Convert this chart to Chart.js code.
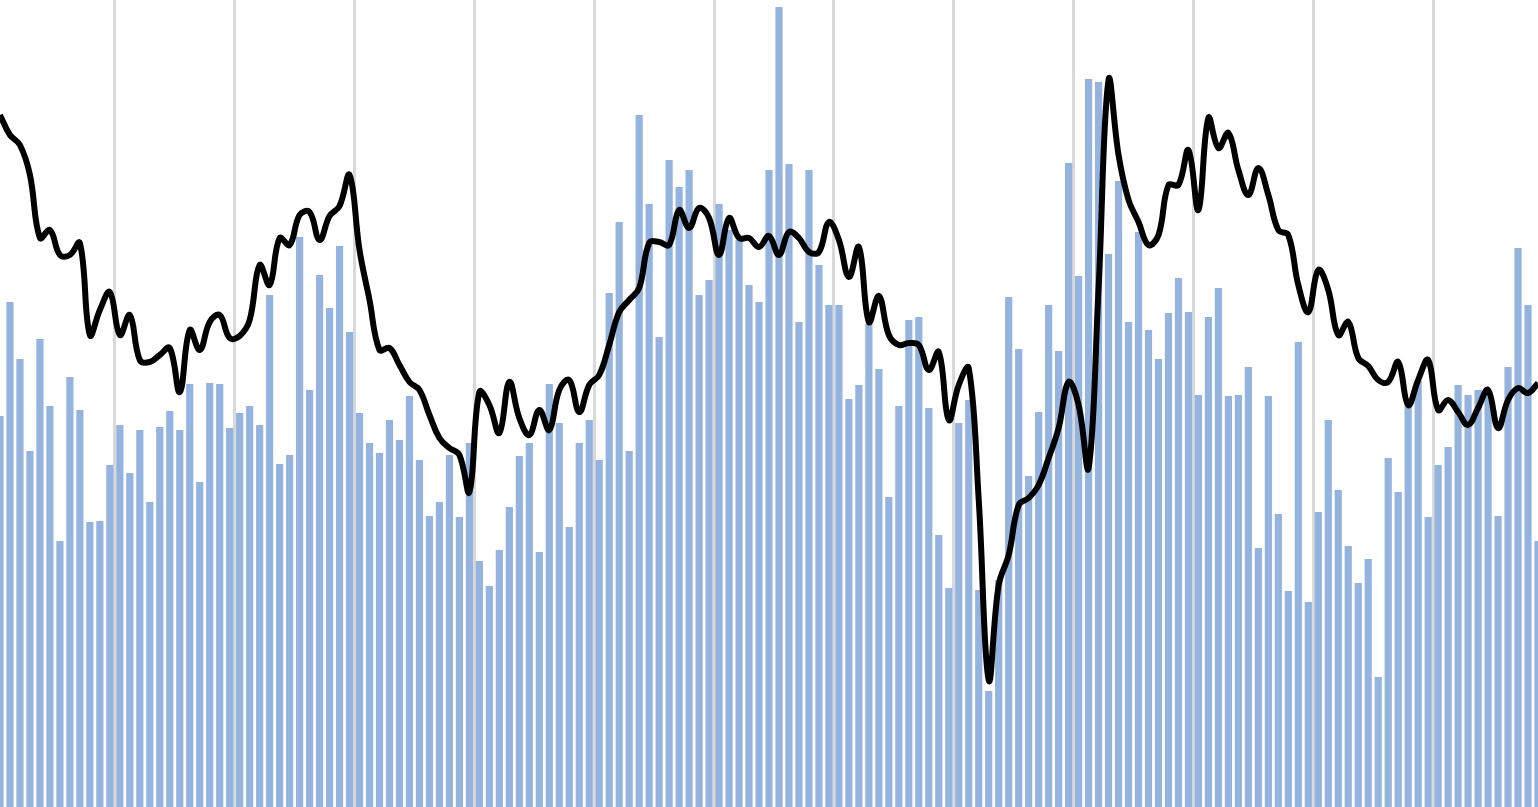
<!DOCTYPE html>
<html>
<head>
<meta charset="utf-8">
<script src="https://cdn.jsdelivr.net/npm/chart.js@4"></script>
<style>
    html, body { margin: 0; padding: 0; background: #fff; overflow: hidden; }
    #wrap { position: absolute; left: -5px; top: 0; width: 1548px; height: 807px; }
</style>
</head>
<body>
<div id="wrap"><canvas id="mainChart" width="1548" height="807"></canvas></div>
<script>
// monthly values
const barValues = [
    391, 505, 448, 356, 468, 401, 266, 430, 397, 285, 286, 342,
    382, 334, 377, 305, 380, 396, 377, 423, 325, 424, 423, 379,
    394, 401, 382, 512, 343, 352, 570, 417, 532, 499, 561, 475,
    394, 364, 354, 387, 367, 411, 347, 291, 305, 352, 290, 364,
    246, 221, 257, 300, 351, 364, 255, 423, 384, 280, 364, 387,
    347, 514, 585, 356, 692, 603, 470, 647, 620, 637, 512, 527,
    603, 577, 567, 522, 505, 637, 800, 643, 485, 637, 542, 502,
    502, 408, 422, 483, 438, 310, 401, 487, 490, 399, 272, 219,
    384, 407, 217, 116, 227, 510, 458, 331, 395, 502, 456, 644,
    531, 728, 725, 553, 626, 485, 575, 477, 448, 494, 529, 495,
    412, 490, 519, 411, 412, 440, 259, 411, 293, 216, 465, 205,
    295, 387, 317, 261, 224, 248, 130, 349, 315, 406, 426, 290,
    342, 360, 422, 412, 417, 412, 291, 440, 559, 502, 266
];

const lineValues = [
    692, 672, 662, 632, 569, 577, 552, 552, 564, 472, 497, 515,
    472, 492, 447, 445, 452, 459, 415, 477, 457, 485, 492, 469,
    471, 487, 542, 522, 569, 562, 592, 595, 567, 591, 601, 632,
    557, 507, 457, 459, 442, 425, 417, 392, 369, 359, 352, 315,
    415, 402, 374, 425, 389, 372, 397, 377, 417, 427, 395, 422,
    432, 462, 495, 507, 519, 564, 565, 562, 597, 579, 599, 589,
    552, 589, 569, 569, 560, 571, 552, 575, 569, 555, 555, 585,
    567, 530, 560, 485, 511, 472, 462, 464, 462, 437, 455, 387,
    422, 439, 307, 127, 222, 252, 302, 309, 322, 349, 379, 425,
    402, 339, 519, 727, 652, 607, 585, 562, 572, 622, 622, 657,
    597, 689, 659, 674, 637, 612, 639, 612, 577, 572, 522, 495,
    537, 517, 472, 485, 449, 441, 427, 425, 445, 402, 427, 447,
    397, 407, 395, 382, 399, 417, 379, 407, 419, 414, 424
];

const labels = barValues.map((v, i) => String(i));

const ctx = document.getElementById('mainChart');
new Chart(ctx, {
    data: {
        labels: labels,
        datasets: [{
            type: 'line',
            data: lineValues,
            borderColor: '#000000',
            borderWidth: 6,
            pointRadius: 0,
            tension: 0.4,
            fill: false,
            order: 0
        }, {
            type: 'bar',
            data: barValues,
            backgroundColor: '#95b3df',
            barPercentage: 0.72,
            categoryPercentage: 1.0,
            order: 1
        }]
    },
    options: {
        responsive: false,
        animation: false,
        devicePixelRatio: 1,
        layout: { padding: 0 },
        plugins: {
            legend: { display: false },
            tooltip: { enabled: false }
        },
        scales: {
            x: {
                offset: true,
                border: { display: false },
                ticks: { display: false, autoSkip: false },
                grid: {
                    offset: true,
                    drawTicks: false,
                    lineWidth: 3,
                    color: (c) => (c.index > 0 && c.index % 12 === 0) ? '#d9d9d9' : 'rgba(0,0,0,0)'
                }
            },
            y: {
                display: false,
                min: 0,
                max: 807
            }
        }
    }
});
</script>
</body>
</html>
